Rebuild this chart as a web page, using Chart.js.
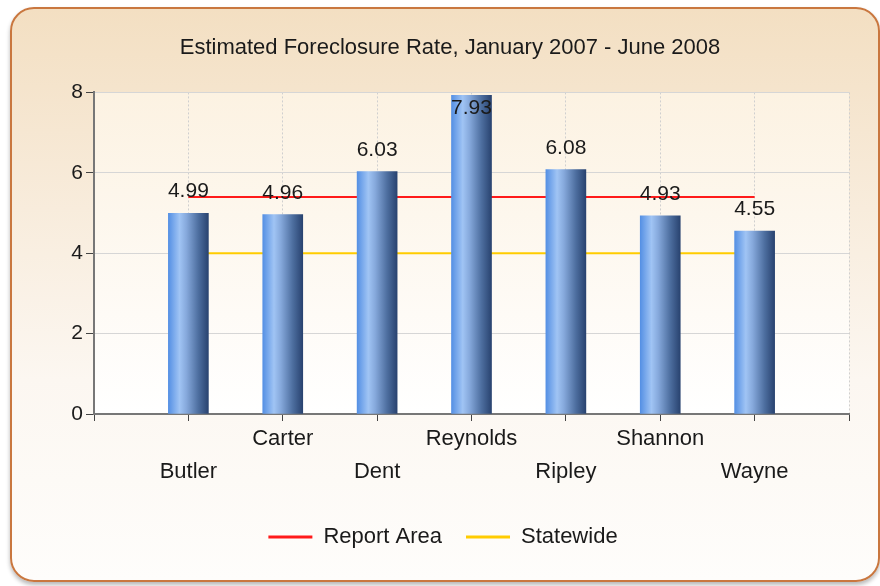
<!DOCTYPE html>
<html>
<head>
<meta charset="utf-8">
<script src="https://cdn.jsdelivr.net/npm/chart.js@4"></script>
<style>
  html, body { margin: 0; padding: 0; width: 880px; height: 586px; overflow: hidden; background: #ffffff; }
  #panel {
    position: absolute; left: 10px; top: 7px; width: 866px; height: 571px;
    border: 2px solid #c9773f; border-radius: 24px;
    background: linear-gradient(to bottom, #f3dfc2 0%, #f8ecdc 35%, #fcf7f1 65%, #fefdfb 100%);
    box-shadow: 0 3px 4px rgba(0,0,0,0.28);
  }
  #wrap { position: absolute; left: 0; top: 0; width: 880px; height: 586px; }
</style>
</head>
<body>
<div id="panel"></div>
<div id="wrap"><canvas id="c" width="880" height="586"></canvas></div>
<script>
const titleText = 'Estimated Foreclosure Rate, January 2007 - June 2008';
const counties = ['Butler', 'Carter', 'Dent', 'Reynolds', 'Ripley', 'Shannon', 'Wayne'];
const rates = [4.99, 4.96, 6.03, 7.93, 6.08, 4.93, 4.55];
const reportArea = [5.4, 5.4, 5.4, 5.4, 5.4, 5.4, 5.4];
const statewide = [4.0, 4.0, 4.0, 4.0, 4.0, 4.0, 4.0];
const yTicks = [0, 2, 4, 6, 8];

const FONT = "'Liberation Sans', Arial, sans-serif";

// category axis with an empty slot on each side; labels alternate between two rows
const labels = [''].concat(counties.map((c, i) => i % 2 === 0 ? ['', c] : [c])).concat(['']);
const pad = arr => [null].concat(arr).concat([null]);

function barGradient(ctx) {
  const chart = ctx.chart;
  const xs = chart.scales && chart.scales.x;
  if (!xs || ctx.dataIndex === undefined) return '#5a8fd8';
  const cx = xs.getPixelForValue(ctx.dataIndex);
  if (!isFinite(cx)) return '#5a8fd8';
  const g = chart.ctx.createLinearGradient(cx - 20, 0, cx + 20, 0);
  g.addColorStop(0, '#5590e4');
  g.addColorStop(0.28, '#a0c4f4');
  g.addColorStop(0.45, '#86a9dc');
  g.addColorStop(0.75, '#4d6e9f');
  g.addColorStop(1, '#294370');
  return g;
}

const plotBg = {
  id: 'plotBg',
  beforeDraw(chart) {
    const { ctx, chartArea: a } = chart;
    const g = ctx.createLinearGradient(0, a.top, 0, a.bottom);
    g.addColorStop(0, '#fcf2e2');
    g.addColorStop(1, '#ffffff');
    ctx.save();
    ctx.fillStyle = g;
    ctx.fillRect(a.left, a.top, a.right - a.left, a.bottom - a.top);
    ctx.restore();
  }
};

const legendShift = {
  id: 'legendShift',
  afterLayout(chart) {
    if (chart.legend) { chart.legend.left -= 7; chart.legend.right -= 7; }
  }
};

const valueLabels = {
  id: 'valueLabels',
  afterDatasetsDraw(chart) {
    const { ctx, chartArea: a } = chart;
    const meta = chart.getDatasetMeta(0);
    ctx.save();
    ctx.font = '21px ' + FONT;
    ctx.fillStyle = '#1a1a1a';
    ctx.textAlign = 'center';
    ctx.textBaseline = 'alphabetic';
    meta.data.forEach((el, i) => {
      const v = chart.data.datasets[0].data[i];
      if (v === null || v === undefined) return;
      const y = Math.max(el.y - 16, a.top + 22);
      ctx.fillText(v.toFixed(2), el.x, y);
    });
    ctx.restore();
  }
};

new Chart(document.getElementById('c'), {
  data: {
    labels: labels,
    datasets: [
      {
        type: 'bar', label: 'Rate', data: pad(rates),
        backgroundColor: barGradient, borderWidth: 0,
        barThickness: 40, order: 0
      },
      {
        type: 'line', label: 'Report Area', data: pad(reportArea),
        borderColor: '#ff1a1a', backgroundColor: '#ff1a1a', borderWidth: 2,
        pointRadius: 0, order: 1, spanGaps: false
      },
      {
        type: 'line', label: 'Statewide', data: pad(statewide),
        borderColor: '#ffcc00', backgroundColor: '#ffcc00', borderWidth: 2,
        pointRadius: 0, order: 2, spanGaps: false
      }
    ]
  },
  options: {
    responsive: false,
    animation: false,
    layout: { padding: { left: 51, right: 31, top: 10, bottom: 28 } },
    plugins: {
      title: {
        display: true, text: titleText, color: '#1a1a1a',
        font: { family: FONT, size: 22, weight: 'normal' },
        padding: { top: 25, bottom: 31 }
      },
      legend: {
        position: 'bottom',
        labels: {
          color: '#1a1a1a', font: { family: FONT, size: 22 },
          boxWidth: 44, boxHeight: 3, padding: 24,
          filter: item => item.datasetIndex !== 0,
          generateLabels(chart) {
            return chart.data.datasets.map((d, i) => ({
              text: d.label, fillStyle: d.borderColor, strokeStyle: d.borderColor,
              lineWidth: 0, hidden: false, datasetIndex: i, fontColor: '#1a1a1a'
            }));
          }
        }
      },
      tooltip: { enabled: false }
    },
    scales: {
      x: {
        type: 'category', offset: false,
        grid: { offset: false, color: '#cfcfcf', lineWidth: 1, tickColor: '#444', tickLength: 7, tickBorderDash: [] },
        border: { display: true, color: '#777', width: 2, dash: [2, 2] },
        ticks: { color: '#1a1a1a', font: { family: FONT, size: 22, lineHeight: 1.5 }, padding: 1, maxRotation: 0, autoSkip: false },
        afterFit(s) { s.height = 88; }
      },
      y: {
        min: 0, max: 8,
        afterBuildTicks(s) { s.ticks = yTicks.map(v => ({ value: v })); },
        grid: { color: '#d6d6d6', lineWidth: 1, tickColor: '#444', tickLength: 8 },
        border: { display: true, color: '#777', width: 2 },
        ticks: { color: '#1a1a1a', font: { family: FONT, size: 21 }, padding: 3 },
        afterFit(s) { s.width = 43; }
      }
    }
  },
  plugins: [plotBg, valueLabels, legendShift]
});
</script>
</body>
</html>
